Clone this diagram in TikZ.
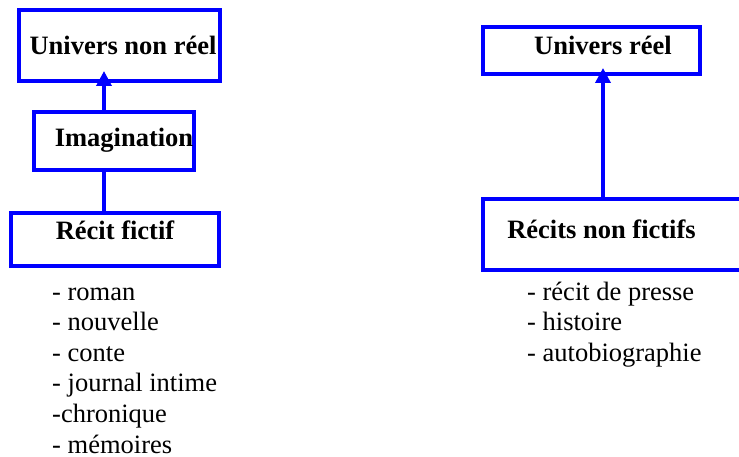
\documentclass[tikz,border=0pt]{standalone}
\usepackage{fontspec}
\setmainfont{Liberation Serif}
\usetikzlibrary{arrows.meta}

\begin{document}
\begin{tikzpicture}[x=1pt,y=-1pt,
    box/.style={draw=blue, line width=3.5pt, rectangle, inner sep=0pt, outer sep=0pt,
      font=\fontsize{26.5}{30}\selectfont\bfseries, text height=19pt},
    liste/.style={anchor=base west, inner sep=0pt, align=left,
      font=\fontsize{26.5}{30.6}\selectfont},
    fleche/.style={draw=blue, line width=3.5pt, -{Triangle[length=15pt,width=15pt]}}]
  \useasboundingbox (0,0) rectangle (739,457);
  \clip (0,0) rectangle (739,457);

  % fiction
  \node[box, minimum width=201pt, minimum height=71pt, text depth=0pt] (univnr) at (119.5,45.5) {\hspace*{7pt}Univers non réel};
  \node[box, minimum width=160pt, minimum height=58pt, text depth=7pt] (imag) at (114,141) {\hspace*{20pt}Imagination};
  \node[box, minimum width=208pt, minimum height=53pt, text depth=19pt] (rfict) at (115,239.5) {Récit fictif};
  % anchor base = last line
  \node[liste] (lfict) at (52,453) {- roman\\- nouvelle\\- conte\\- journal intime\\-chronique\\- mémoires};

  % non-fiction
  \node[box, minimum width=217pt, minimum height=47pt, text depth=10pt] (univr) at (591.5,50.5) {\hspace*{23pt}Univers réel};
  \node[box, minimum width=258pt, minimum height=71pt, text depth=10pt] (rnfict) at (612,234.5) {Récits non fictifs\hspace*{21pt}};
  \node[liste] (lnfict) at (527,361.2) {- récit de presse\\- histoire\\- autobiographie};

  \draw[fleche, shorten >=-10pt] ([xshift=-10pt]imag.north) -- ([xshift=-10pt]imag.north |- univnr.south);
  \draw[draw=blue, line width=3.5pt] ([xshift=-11pt]rfict.north) -- ([xshift=-11pt]rfict.north |- imag.south);
  \draw[fleche, shorten >=-6pt] ([xshift=-9pt]rnfict.north) -- ([xshift=-9pt]rnfict.north |- univr.south);
\end{tikzpicture}
\end{document}
